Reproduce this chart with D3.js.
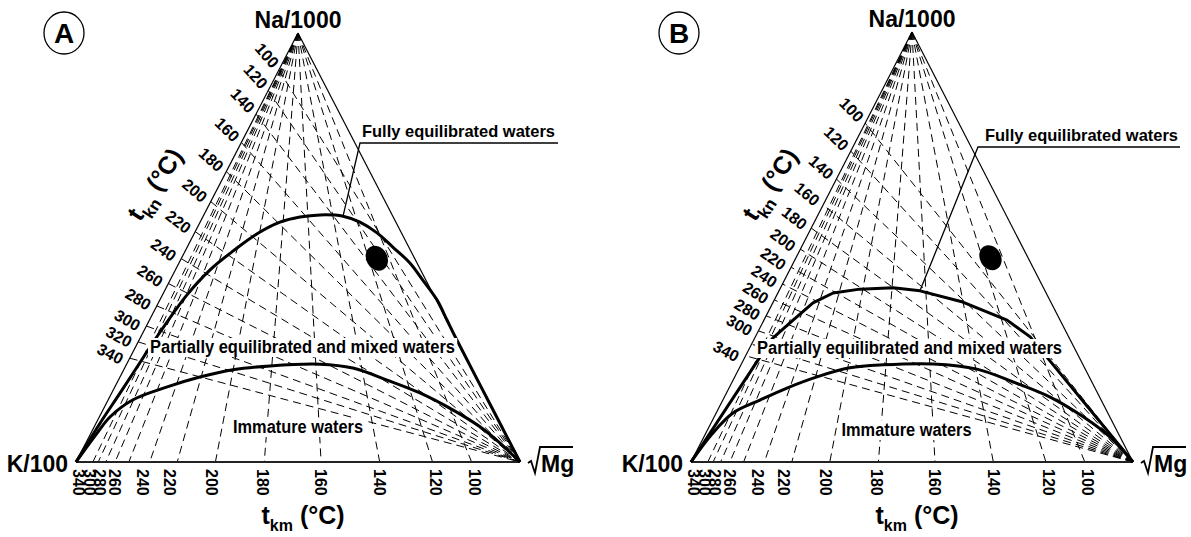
<!DOCTYPE html>
<html>
<head>
<meta charset="utf-8">
<script src="https://cdn.jsdelivr.net/npm/d3@7"></script>
<style>
  body { margin: 0; background: #fff; }
  svg { display: block; }
  text { font-family: "Liberation Sans", Arial, sans-serif; font-weight: bold; fill: #000; }
</style>
</head>
<body>
<svg id="chart" width="1191" height="537"></svg>
<script>
// Isotherm temperatures (°C)
const tempsC = [100, 120, 140, 160, 180, 200, 220, 240, 260, 280, 300, 320, 340];

// Where each t_kn isotherm meets the K–Na side (fraction of the way from K/100 to Na/1000)
const tknSideA = [0.914, 0.866, 0.811, 0.745, 0.677, 0.607, 0.537, 0.474, 0.416, 0.364, 0.317, 0.280, 0.242];
const tknSideB = [0.788, 0.723, 0.658, 0.598, 0.544, 0.495, 0.453, 0.414, 0.377, 0.340, 0.305, 0.274, 0.247];

// Where each t_km isotherm meets the K–Mg side (fraction of the way from K/100 to √Mg)
const tkmSide = [0.891, 0.803, 0.684, 0.552, 0.424, 0.314, 0.228, 0.166, 0.119, 0.088, 0.067, 0.050, 0.038];

// Tick labels that are printed
const tknLabelsA = [100, 120, 140, 160, 180, 200, 220, 240, 260, 280, 300, 320, 340];
const tknLabelsB = [100, 120, 140, 160, 180, 200, 220, 240, 260, 280, 300, 340];
const tkmLabels  = [100, 120, 140, 160, 180, 200, 220, 240, 260, 280, 300, 340];

// Full-equilibrium curves, as Na and Mg fractions (K = 1 - Na - Mg)
const fullEqA_Na = [0, 0.091, 0.161, 0.261, 0.303, 0.389, 0.448, 0.492, 0.532, 0.559, 0.571, 0.576, 0.573, 0.559, 0.534, 0.501, 0.464, 0.424, 0.378, 0.331, 0.285, 0.140, 0];
const fullEqA_Mg = [0, 0.009, 0.019, 0.032, 0.038, 0.055, 0.078, 0.108, 0.142, 0.180, 0.219, 0.262, 0.315, 0.360, 0.411, 0.463, 0.520, 0.569, 0.624, 0.670, 0.715, 0.860, 1];
const fullEqB_Na = [0, 0.244, 0.288, 0.330, 0.370, 0.393, 0.402, 0.405, 0.398, 0.372, 0.330, 0.291, 0];
const fullEqB_Mg = [0, 0.034, 0.041, 0.066, 0.091, 0.125, 0.181, 0.255, 0.319, 0.429, 0.550, 0.622, 1];

// Partial-equilibrium (immature waters) boundaries
const partialA_Na = [0, 0.068, 0.105, 0.145, 0.175, 0.198, 0.215, 0.224, 0.228, 0.219, 0.191, 0.161, 0.121, 0.082, 0.044, 0];
const partialA_Mg = [0, 0.014, 0.024, 0.056, 0.118, 0.180, 0.246, 0.325, 0.435, 0.514, 0.605, 0.694, 0.789, 0.869, 0.933, 1];
const partialB_Na = [0, 0.065, 0.114, 0.144, 0.172, 0.198, 0.219, 0.226, 0.228, 0.216, 0.186, 0.151, 0.105, 0.058, 0];
const partialB_Mg = [0, 0.015, 0.038, 0.084, 0.131, 0.186, 0.250, 0.322, 0.434, 0.539, 0.636, 0.737, 0.835, 0.919, 1];

// Sample composition
const sampleNa = 0.475;
const sampleMg = 0.440;

// Horizontal nudges (px) that spread the crowded t_km labels
const tkmLabelShift = [3, 3, 0, 0, -2, -4, -8, -7, -14, -15, -16, 0, -14];

const svg = d3.select("#chart");
const zip = (na, mg) => na.map((v, i) => [v, mg[i]]);

const panels = [
  {
    letter: "A", K: [76, 462], Na: [298, 33], Mg: [520, 462],
    tkn: tknSideA, tknLabels: tknLabelsA, tknFromMg: false,
    full: zip(fullEqA_Na, fullEqA_Mg), fullCurve: d3.curveCatmullRom.alpha(0.5), leaderIdx: 12,
    partial: zip(partialA_Na, partialA_Mg),
    fullLabel: { x: 362, y: 137, ul: [360, 558, 143] },
    partLabel: { cx: 302.5, y: 353 },
    immLabel: { cx: 298, y: 433 }
  },
  {
    letter: "B", K: [691, 462], Na: [912, 32], Mg: [1133, 462],
    tkn: tknSideB, tknLabels: tknLabelsB, tknFromMg: true,
    full: zip(fullEqB_Na, fullEqB_Mg), fullCurve: d3.curveLinear, leaderIdx: 8,
    partial: zip(partialB_Na, partialB_Mg),
    fullLabel: { x: 985, y: 141, ul: [978, 1180, 147] },
    partLabel: { cx: 909.5, y: 354 },
    immLabel: { cx: 906.5, y: 436 }
  }
];

function boxedText(g, txt, x, y, anchor, width, size) {
  const t = g.append("text")
    .attr("x", x).attr("y", y)
    .attr("text-anchor", anchor)
    .attr("font-size", size)
    .attr("textLength", width)
    .attr("lengthAdjust", "spacingAndGlyphs")
    .text(txt);
  const bb = t.node().getBBox();
  g.insert("rect", () => t.node())
    .attr("x", bb.x - 2).attr("y", bb.y + 1)
    .attr("width", bb.width + 4).attr("height", bb.height - 1)
    .attr("fill", "#fff");
  return t;
}

panels.forEach(p => {
  const g = svg.append("g");
  const xs = d3.scaleLinear().domain([0, 1]).range([p.K[0], p.Mg[0]]);
  const ys = d3.scaleLinear().domain([0, 1]).range([p.K[1], p.Na[1]]);
  const pt = (na, mg) => [xs(mg + na / 2), ys(na)];
  const line = d3.line();

  const dashed = g.append("g")
    .attr("fill", "none").attr("stroke", "#000")
    .attr("stroke-width", 1).attr("stroke-dasharray", "8,5");

  // t_km isotherms: from the Na apex down to the K–Mg side
  tkmSide.forEach(s => {
    dashed.append("path").attr("d", line([pt(1, 0), pt(0, s)]));
  });
  // t_kn isotherms: from the √Mg corner across to the K–Na side
  p.tkn.forEach(f => {
    const ends = p.tknFromMg ? [pt(0, 1), pt(f, 0)] : [pt(f, 0), pt(0, 1)];
    dashed.append("path").attr("d", line(ends));
  });

  // Triangle sides
  g.append("path").attr("d", line([pt(0, 0), pt(1, 0)]))
    .attr("stroke", "#000").attr("stroke-width", 1.2).attr("fill", "none");
  g.append("path").attr("d", line([pt(1, 0), pt(0, 1)]))
    .attr("stroke", "#000").attr("stroke-width", 1.2).attr("fill", "none");
  g.append("path").attr("d", line([pt(0, 0), pt(0, 1)]))
    .attr("stroke", "#222").attr("stroke-width", 2.2).attr("fill", "none");

  // Equilibrium curves
  g.append("path")
    .attr("d", d3.line().curve(p.fullCurve)(p.full.map(d => pt(d[0], d[1]))))
    .attr("fill", "none").attr("stroke", "#000").attr("stroke-width", 3)
    .attr("stroke-linejoin", "round");
  g.append("path")
    .attr("d", d3.line().curve(d3.curveCatmullRom.alpha(0.5))(p.partial.map(d => pt(d[0], d[1]))))
    .attr("fill", "none").attr("stroke", "#000").attr("stroke-width", 3);

  // Sample
  const sp = pt(sampleNa, sampleMg);
  g.append("ellipse")
    .attr("cx", 0).attr("cy", 0).attr("rx", 10.5).attr("ry", 13)
    .attr("transform", `translate(${sp[0]},${sp[1]}) rotate(-30)`)
    .attr("fill", "#000");

  // Region labels
  const lead = p.full[p.leaderIdx];
  const lp = pt(lead[0], lead[1]);
  g.append("path")
    .attr("d", line([lp, [p.fullLabel.ul[0], p.fullLabel.ul[2]], [p.fullLabel.ul[1], p.fullLabel.ul[2]]]))
    .attr("fill", "none").attr("stroke", "#000").attr("stroke-width", 1.3);
  g.append("text").attr("x", p.fullLabel.x).attr("y", p.fullLabel.y)
    .attr("font-size", 17).attr("textLength", 193).attr("lengthAdjust", "spacingAndGlyphs")
    .text("Fully equilibrated waters");
  boxedText(g, "Partially equilibrated and mixed waters", p.partLabel.cx, p.partLabel.y, "middle", 305, 17.5);
  boxedText(g, "Immature waters", p.immLabel.cx, p.immLabel.y, "middle", 130, 17.5);

  // t_kn tick labels along the K–Na side
  const M = pt(0, 1);
  p.tknLabels.forEach(t => {
    const f = p.tkn[tempsC.indexOf(t)];
    const P = pt(f, 0);
    const dx = P[0] - M[0], dy = P[1] - M[1];
    const len = Math.hypot(dx, dy);
    const ux = dx / len, uy = dy / len;
    const lineAngle = Math.atan2(-dy, -dx) * 180 / Math.PI;
    const cx = P[0] + 17 * ux - 3, cy = P[1] + 17 * uy;
    g.append("text")
      .attr("transform", `translate(${cx},${cy}) rotate(${0.5 * lineAngle + 20})`)
      .attr("text-anchor", "middle").attr("dy", "0.35em")
      .attr("font-size", 16).text(t);
  });

  // t_km tick labels below the K–Mg side
  tkmLabels.forEach(t => {
    const i = tempsC.indexOf(t);
    const x = pt(0, tkmSide[i])[0] + tkmLabelShift[i];
    g.append("text")
      .attr("transform", `translate(${x},${p.K[1] + 7}) rotate(90)`)
      .attr("text-anchor", "start").attr("dy", "0.35em")
      .attr("font-size", 16).text(t);
  });

  // Axis titles
  const tkn = g.append("text")
    .attr("transform", `translate(${p.K[0] + 86},189) rotate(-57)`)
    .attr("text-anchor", "middle").attr("font-size", 25);
  tkn.append("tspan").text("t");
  tkn.append("tspan").attr("font-size", 17).attr("dy", 8).text("kn");
  tkn.append("tspan").attr("dy", -8).attr("dx", 7).text("(°C)");

  const tkmT = g.append("text")
    .attr("x", (p.K[0] + p.Mg[0]) / 2 + 5).attr("y", 524)
    .attr("text-anchor", "middle").attr("font-size", 25);
  tkmT.append("tspan").text("t");
  tkmT.append("tspan").attr("font-size", 16).attr("dy", 7).text("km");
  tkmT.append("tspan").attr("dy", -7).attr("dx", 7).text("(°C)");

  // Corner labels
  g.append("text").attr("x", p.Na[0]).attr("y", p.Na[1] - 5)
    .attr("text-anchor", "middle").attr("font-size", 23).text("Na/1000");
  g.append("text").attr("x", p.K[0] - 8).attr("y", p.K[1] + 10)
    .attr("text-anchor", "end").attr("font-size", 23).text("K/100");
  const mx = p.Mg[0] + 8, my = p.Mg[1];
  g.append("path")
    .attr("d", `M${mx},${my + 1} L${mx + 3},${my - 1} L${mx + 7},${my + 11} L${mx + 12},${my - 15} L${mx + 45},${my - 15}`)
    .attr("fill", "none").attr("stroke", "#000").attr("stroke-width", 1.8);
  g.append("text").attr("x", mx + 13).attr("y", my + 10)
    .attr("font-size", 23).text("Mg");

  // Panel letter
  g.append("ellipse").attr("cx", p.K[0] - 12).attr("cy", 33).attr("rx", 20).attr("ry", 21)
    .attr("fill", "none").attr("stroke", "#000").attr("stroke-width", 1.3);
  g.append("text").attr("x", p.K[0] - 12).attr("y", 43)
    .attr("text-anchor", "middle").attr("font-size", 28).text(p.letter);
});
</script>
</body>
</html>
